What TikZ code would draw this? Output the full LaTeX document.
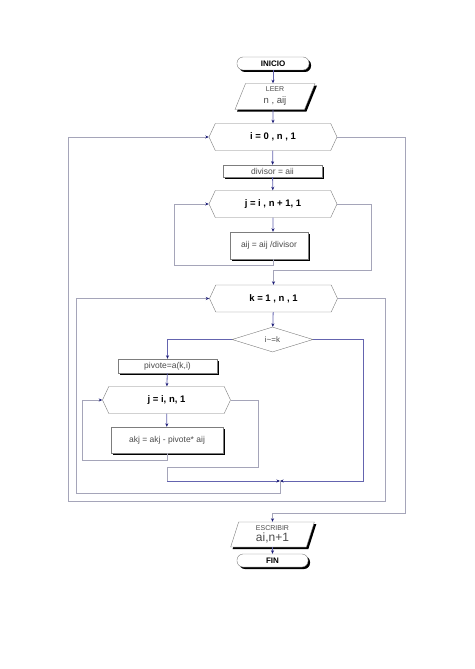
\documentclass[tikz,border=0pt]{standalone}
\usepackage{fontspec}
\setmainfont{Liberation Sans}
\usetikzlibrary{shapes.geometric, shapes.symbols, shadows, arrows.meta}
\definecolor{flowblue}{RGB}{100,100,175}
\definecolor{loopgray}{RGB}{165,165,185}
\definecolor{edgegray}{RGB}{125,125,125}
\definecolor{tipnavy}{RGB}{30,30,120}
\definecolor{textgray}{RGB}{75,75,75}
\tikzset{
    >={Stealth[length=3.5pt, width=3pt, color=tipnavy]}, % small dark arrow heads
    shade/.style={drop shadow={shadow xshift=2pt, shadow yshift=-2pt, fill=black, opacity=1}}, % black shadow to the lower right
    terminal/.style={rounded corners=6pt, draw=edgegray, fill=white, shade, minimum width=72pt, minimum height=13pt, inner sep=0pt, font=\fontsize{8}{9}\selectfont\bfseries},
    io/.style={trapezium, trapezium left angle=78, trapezium right angle=102, trapezium stretches=true, draw=edgegray, fill=white, shade, minimum width=80pt, minimum height=26pt, inner sep=1pt, align=center, text=textgray},
    process/.style={draw=edgegray, fill=white, shade, inner sep=0pt, font=\fontsize{8.5}{10}\selectfont, text=textgray},
    cycle/.style={signal, signal to=west and east, signal pointer angle=130, draw=edgegray, fill=white, minimum width=128pt, minimum height=27pt, inner sep=0pt, font=\fontsize{9.5}{11}\selectfont\bfseries},
    test/.style={diamond, draw=edgegray, fill=white, minimum width=81pt, minimum height=25pt, inner sep=0pt, font=\fontsize{8}{9}\selectfont, text=textgray},
    flow/.style={draw=flowblue, line width=0.8pt, ->}, % short arrows between the boxes
    back/.style={draw=loopgray, line width=0.8pt}, % loop lines
}

\begin{document}
\begin{tikzpicture}[x=1pt, y=-1pt]
    \useasboundingbox (0,0) rectangle (474,669);
    % main column
    \node[terminal] (inicio) at (273,63.5) {INICIO};
    \node[io] (leer) at (275,96.5) {{\fontsize{7}{8}\selectfont LEER}\\{\fontsize{9.5}{10}\selectfont n , aij}};
    \node[cycle] (cicloi) at (273,137) {i = 0 , n , 1};
    \node[process, minimum width=99pt, minimum height=12pt] (divisor) at (272.5,171) {divisor = aii};
    \node[cycle] (ciclojj) at (273,204) {j = i , n + 1, 1};
    \node[process, minimum width=78pt, minimum height=27pt] (aij) at (269,245.5) {aij = aij /divisor};
    \node[cycle] (ciclok) at (273.5,298.5) {k = 1 , n , 1};
    \node[test] (cond) at (272.5,339.5) {i\textasciitilde=k};
    \node[process, minimum width=99pt, minimum height=14pt] (pivote) at (167.5,366) {pivote=a(k,i)};
    \node[cycle] (ciclojk) at (166.5,400) {j = i, n, 1};
    \node[process, minimum width=112pt, minimum height=26pt] (akj) at (167,440) {akj = akj - pivote* aij};
    \node[io, minimum width=84pt, minimum height=25pt] (escribir) at (272.5,534.5) {{\fontsize{7}{8}\selectfont ESCRIBIR}\\[-1pt]{\fontsize{12}{12}\selectfont ai,n+1}};
    \node[terminal, minimum width=71pt] (fin) at (272.5,560.5) {FIN};

    % corners of the loop lines
    \coordinate (jback) at (174,265);
    \coordinate (jexit) at (371,270);
    \coordinate (jkback) at (82,460);
    \coordinate (jkexit) at (258,467);
    \coordinate (jkend) at (167,481);
    \coordinate (nobranch) at (363,481);
    \coordinate (join) at (280,481);
    \coordinate (kback) at (76,493);
    \coordinate (kexit) at (385,501);
    \coordinate (iback) at (68,501);
    \coordinate (iexit) at (405,513);

    \draw[flow] (inicio) -- (inicio |- leer.north);
    \draw[flow] (inicio |- leer.south) -- (cicloi);
    \draw[flow] (cicloi) -- (divisor);
    \draw[flow] (divisor) -- (ciclojj);
    \draw[flow] (ciclojj) -- (ciclojj |- aij.north);
    \draw[back, ->] (ciclojj |- aij.south) |- (jback) |- (ciclojj.west);
    \draw[back, ->] (ciclojj.east) -| (jexit) -| (ciclok.north);
    \draw[flow] (ciclok) -- (cond);
    \draw[flow] (cond.west) -| (pivote.north);
    \draw[flow] (pivote) -- (ciclojk);
    \draw[flow] (ciclojk) -- (akj);
    \draw[back, ->] (akj.south) |- (jkback) |- (ciclojk.west);
    \draw[back] (ciclojk.east) -| (jkexit) -| (jkend);
    \draw[flow] (jkend) -- (join);
    \draw[flow] (cond.east) -| (nobranch) -- (join);
    \draw[back, ->] (join) |- (kback) |- (ciclok.west);
    \draw[back, ->] (ciclok.east) -| (kexit) -- (iback) |- (cicloi.west);
    \draw[back, ->] (cicloi.east) -| (iexit) -| (escribir.north);
    \draw[flow] (escribir) -- (fin);
\end{tikzpicture}
\end{document}
